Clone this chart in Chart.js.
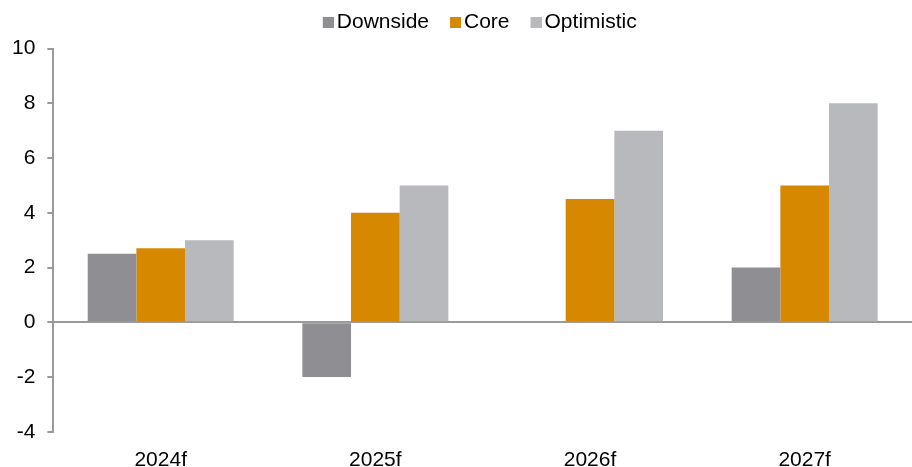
<!DOCTYPE html>
<html>
<head>
<meta charset="utf-8">
<script src="https://cdn.jsdelivr.net/npm/chart.js@4.4.1/dist/chart.umd.min.js"></script>
<style>
  html, body { margin: 0; padding: 0; background: #fff; overflow: hidden; }
  .wrap { width: 912px; height: 470px; position: relative; }
</style>
</head>
<body>
<div class="wrap"><canvas id="chart"></canvas></div>
<script>
const categories = ['2024f', '2025f', '2026f', '2027f'];
const downside = [2.5, -2, null, 2];
const core = [2.7, 4, 4.5, 5];
const optimistic = [3, 5, 7, 8];
const yTicks = [-4, -2, 0, 2, 4, 6, 8, 10];
const colors = ['#8f8e93', '#d68800', '#b8b9bd'];

Chart.defaults.font.family = '"Liberation Sans", Arial, sans-serif';
Chart.defaults.color = '#000';

// legend swatch: square sits close to its text
function swatch(color) {
  const c = document.createElement('canvas');
  c.width = 26;
  c.height = 11;
  const g = c.getContext('2d');
  g.fillStyle = color;
  g.fillRect(15, 0, 11, 11);
  return c;
}
const swatches = colors.map(swatch);

const legendTweak = {
  id: 'legendTweak',
  beforeInit(chart) {
    const legend = chart.legend;
    const fit = legend.fit;
    legend.fit = function () {
      fit.call(legend);
      legend.height += 4;
    };
    const draw = legend.draw;
    legend.draw = function () {
      const c = legend.ctx;
      c.save();
      c.translate(20, -2);
      draw.call(legend);
      c.restore();
    };
  }
};

const ctx = document.getElementById('chart').getContext('2d');

const chart = new Chart(ctx, {
  type: 'bar',
  data: {
    labels: categories,
    datasets: [
      { label: 'Downside', data: downside, backgroundColor: colors[0] },
      { label: 'Core', data: core, backgroundColor: colors[1] },
      { label: 'Optimistic', data: optimistic, backgroundColor: colors[2] },
    ]
  },
  options: {
    responsive: true,
    maintainAspectRatio: false,
    animation: false,
    layout: { padding: { left: 0, right: 0, top: 0, bottom: -19 } },
    datasets: {
      bar: { categoryPercentage: 0.68, barPercentage: 1 }
    },
    scales: {
      x: {
        border: { display: false },
        grid: { display: false, drawTicks: false },
        ticks: { font: { size: 21 }, color: '#000', padding: 16 }
      },
      y: {
        min: -4,
        max: 10,
        afterBuildTicks: (axis) => {
          axis.ticks = yTicks.map(v => ({ value: v }));
        },
        border: { display: true, color: '#9a9a9a', width: 2 },
        grid: {
          drawOnChartArea: true,
          tickLength: 6,
          tickColor: '#9a9a9a',
          lineWidth: 2,
          color: (c) => (c.tick && c.tick.value === 0 ? '#9a9a9a' : 'rgba(0,0,0,0)')
        },
        ticks: { font: { size: 21 }, color: '#000', padding: 12 }
      }
    },
    plugins: {
      tooltip: { enabled: false },
      legend: {
        position: 'top',
        labels: {
          font: { size: 21 },
          color: '#000',
          usePointStyle: true,
          boxWidth: 11,
          boxHeight: 11,
          padding: 13.5,
          generateLabels: (ch) => {
            const items = Chart.defaults.plugins.legend.labels.generateLabels(ch);
            items.forEach((it, i) => { it.pointStyle = swatches[i]; });
            return items;
          }
        }
      }
    }
  },
  plugins: [legendTweak]
});
</script>
</body>
</html>
